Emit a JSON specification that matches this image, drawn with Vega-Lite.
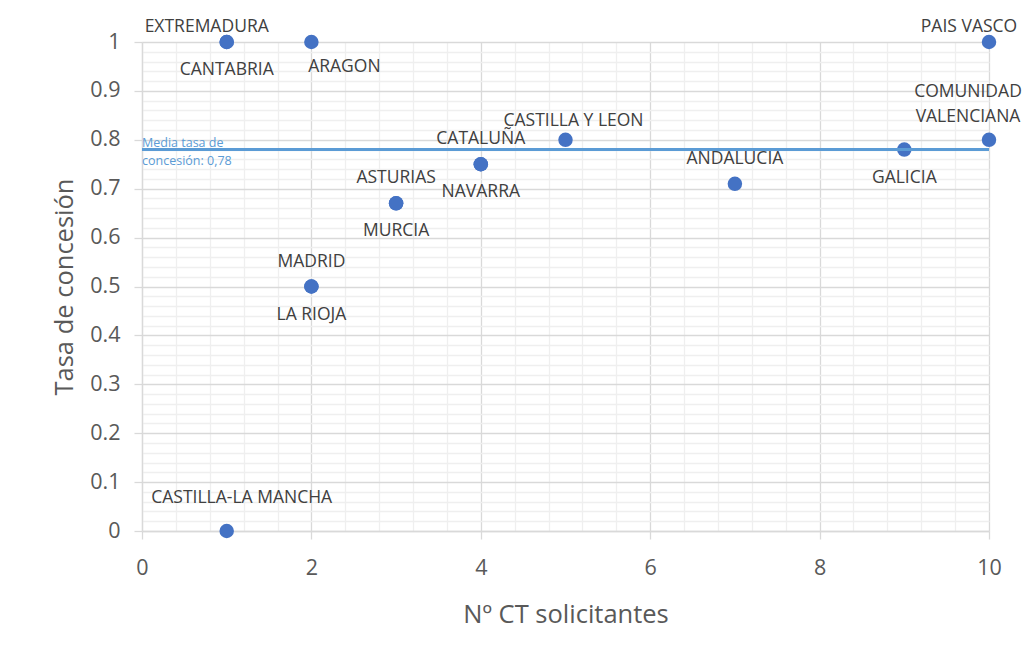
{
  "$schema": "https://vega.github.io/schema/vega-lite/v6.json",
  "width": 847,
  "height": 489,
  "autosize": {"type": "none"},
  "padding": {"left": 142, "top": 42, "right": 42, "bottom": 128},
  "background": "white",
  "config": {
    "view": {"stroke": null},
    "font": "Open Sans",
    "axis": {
      "labelFont": "Open Sans",
      "titleFont": "Open Sans",
      "labelColor": "#595959",
      "titleColor": "#595959",
      "labelFontSize": 21.5,
      "titleFontSize": 25.5,
      "titleFontWeight": "normal",
      "gridColor": "#d9d9d9",
      "gridWidth": 1.3,
      "domainColor": "#d9d9d9",
      "tickColor": "#d9d9d9",
      "tickSize": 8,
      "domainWidth": 1.3,
      "tickWidth": 1.3,
      "labelFlush": false
    }
  },
  "data": {
    "values": [
      {"region": "EXTREMADURA", "ct": 1, "tasa": 1, "pos": "arriba_izq"},
      {"region": "CANTABRIA", "ct": 1, "tasa": 1, "pos": "abajo"},
      {"region": "ARAGON", "ct": 2, "tasa": 1, "pos": "abajo_der"},
      {"region": "PAIS VASCO", "ct": 10, "tasa": 1, "pos": "arriba_izq"},
      {"region": "COMUNIDAD\nVALENCIANA", "ct": 10, "tasa": 0.8, "pos": "arriba_izq2"},
      {"region": "CASTILLA Y LEON", "ct": 5, "tasa": 0.8, "pos": "arriba_cerca"},
      {"region": "CATALUÑA", "ct": 4, "tasa": 0.75, "pos": "arriba"},
      {"region": "NAVARRA", "ct": 4, "tasa": 0.75, "pos": "abajo"},
      {"region": "ANDALUCIA", "ct": 7, "tasa": 0.71, "pos": "arriba"},
      {"region": "GALICIA", "ct": 9, "tasa": 0.78, "pos": "abajo"},
      {"region": "ASTURIAS", "ct": 3, "tasa": 0.67, "pos": "arriba"},
      {"region": "MURCIA", "ct": 3, "tasa": 0.67, "pos": "abajo"},
      {"region": "MADRID", "ct": 2, "tasa": 0.5, "pos": "arriba"},
      {"region": "LA RIOJA", "ct": 2, "tasa": 0.5, "pos": "abajo"},
      {"region": "CASTILLA-LA MANCHA", "ct": 1, "tasa": 0, "pos": "arriba_der"}
    ]
  },
  "layer": [
    {
      "mark": {"type": "point", "opacity": 0},
      "encoding": {
        "x": {
          "field": "ct", "type": "quantitative",
          "scale": {"domain": [0, 10], "nice": false, "zero": false},
          "axis": {
            "orient": "bottom", "values": [0.4, 0.8, 1.2, 1.6, 2.4, 2.8, 3.2, 3.6, 4.4, 4.8, 5.2, 5.6, 6.4, 6.8, 7.2, 7.6, 8.4, 8.8, 9.2, 9.6],
            "grid": true, "gridColor": "#efefef", "labels": false, "ticks": false, "domain": false, "title": null
          }
        },
        "y": {
          "field": "tasa", "type": "quantitative",
          "scale": {"domain": [0, 1], "nice": false},
          "axis": {
            "orient": "left",
            "values": [0.02, 0.04, 0.06, 0.08, 0.12, 0.14, 0.16, 0.18, 0.22, 0.24, 0.26, 0.28, 0.32, 0.34, 0.36, 0.38, 0.42, 0.44, 0.46, 0.48, 0.52, 0.54, 0.56, 0.58, 0.62, 0.64, 0.66, 0.68, 0.72, 0.74, 0.76, 0.78, 0.82, 0.84, 0.86, 0.88, 0.92, 0.94, 0.96, 0.98],
            "grid": true, "gridColor": "#efefef", "labels": false, "ticks": false, "domain": false, "title": null
          }
        }
      }
    },
    {
      "mark": {"type": "circle", "size": 210, "color": "#4472C4", "opacity": 1},
      "encoding": {
        "x": {
          "field": "ct", "type": "quantitative",
          "scale": {"domain": [0, 10], "nice": false, "zero": false},
          "axis": {
            "orient": "bottom", "values": [0, 2, 4, 6, 8, 10], "grid": true,
            "title": "Nº CT solicitantes", "labelPadding": 18, "titlePadding": 24
          }
        },
        "y": {
          "field": "tasa", "type": "quantitative",
          "scale": {"domain": [0, 1], "nice": false},
          "axis": {
            "orient": "left",
            "values": [0, 0.1, 0.2, 0.3, 0.4, 0.5, 0.6, 0.7, 0.8, 0.9, 1],
            "format": "~g", "grid": true,
            "title": "Tasa de concesión", "labelPadding": 14, "titlePadding": 12
          }
        }
      }
    },
    {
      "data": {"values": [{"media": 0.78, "etiqueta": "Media tasa de\nconcesión: 0,78"}]},
      "mark": {"type": "rule", "color": "#5B9BD5", "strokeWidth": 3},
      "encoding": {
        "y": {"field": "media", "type": "quantitative", "axis": null}
      }
    },
    {
      "data": {"values": [{"media": 0.78, "etiqueta": "Media tasa de\nconcesión: 0,78"}]},
      "mark": {"type": "text", "color": "#5B9BD5", "fontSize": 12.5, "align": "left", "baseline": "middle", "lineBreak": "\n", "lineHeight": 18, "dx": 0, "dy": -7},
      "encoding": {
        "x": {"datum": 0, "type": "quantitative", "axis": null},
        "y": {"field": "media", "type": "quantitative", "axis": null},
        "text": {"field": "etiqueta"}
      }
    },
    {
      "transform": [{"filter": "datum.pos === 'arriba'"}],
      "mark": {"type": "text", "color": "#404040", "fontSize": 17.5, "align": "center", "baseline": "middle", "dy": -25},
      "encoding": {
        "x": {"field": "ct", "type": "quantitative", "axis": null},
        "y": {"field": "tasa", "type": "quantitative", "axis": null},
        "text": {"field": "region"}
      }
    },
    {
      "transform": [{"filter": "datum.pos === 'arriba_cerca'"}],
      "mark": {"type": "text", "color": "#404040", "fontSize": 17.5, "align": "center", "baseline": "middle", "dy": -19, "dx": 8},
      "encoding": {
        "x": {"field": "ct", "type": "quantitative", "axis": null},
        "y": {"field": "tasa", "type": "quantitative", "axis": null},
        "text": {"field": "region"}
      }
    },
    {
      "transform": [{"filter": "datum.pos === 'abajo'"}],
      "mark": {"type": "text", "color": "#404040", "fontSize": 17.5, "align": "center", "baseline": "middle", "dy": 28},
      "encoding": {
        "x": {"field": "ct", "type": "quantitative", "axis": null},
        "y": {"field": "tasa", "type": "quantitative", "axis": null},
        "text": {"field": "region"}
      }
    },
    {
      "transform": [{"filter": "datum.pos === 'arriba_izq'"}],
      "mark": {"type": "text", "color": "#404040", "fontSize": 17.5, "align": "center", "baseline": "middle", "dy": -15, "dx": -20},
      "encoding": {
        "x": {"field": "ct", "type": "quantitative", "axis": null},
        "y": {"field": "tasa", "type": "quantitative", "axis": null},
        "text": {"field": "region"}
      }
    },
    {
      "transform": [{"filter": "datum.pos === 'arriba_izq2'"}],
      "mark": {"type": "text", "color": "#404040", "fontSize": 17.5, "align": "center", "baseline": "middle", "lineBreak": "\n", "lineHeight": 25, "dy": -48, "dx": -21},
      "encoding": {
        "x": {"field": "ct", "type": "quantitative", "axis": null},
        "y": {"field": "tasa", "type": "quantitative", "axis": null},
        "text": {"field": "region"}
      }
    },
    {
      "transform": [{"filter": "datum.pos === 'abajo_der'"}],
      "mark": {"type": "text", "color": "#404040", "fontSize": 17.5, "align": "center", "baseline": "middle", "dy": 25, "dx": 33},
      "encoding": {
        "x": {"field": "ct", "type": "quantitative", "axis": null},
        "y": {"field": "tasa", "type": "quantitative", "axis": null},
        "text": {"field": "region"}
      }
    },
    {
      "transform": [{"filter": "datum.pos === 'arriba_der'"}],
      "mark": {"type": "text", "color": "#404040", "fontSize": 17.5, "align": "center", "baseline": "middle", "dy": -33, "dx": 15},
      "encoding": {
        "x": {"field": "ct", "type": "quantitative", "axis": null},
        "y": {"field": "tasa", "type": "quantitative", "axis": null},
        "text": {"field": "region"}
      }
    }
  ],
  "resolve": {"axis": {"x": "independent", "y": "independent"}}
}
